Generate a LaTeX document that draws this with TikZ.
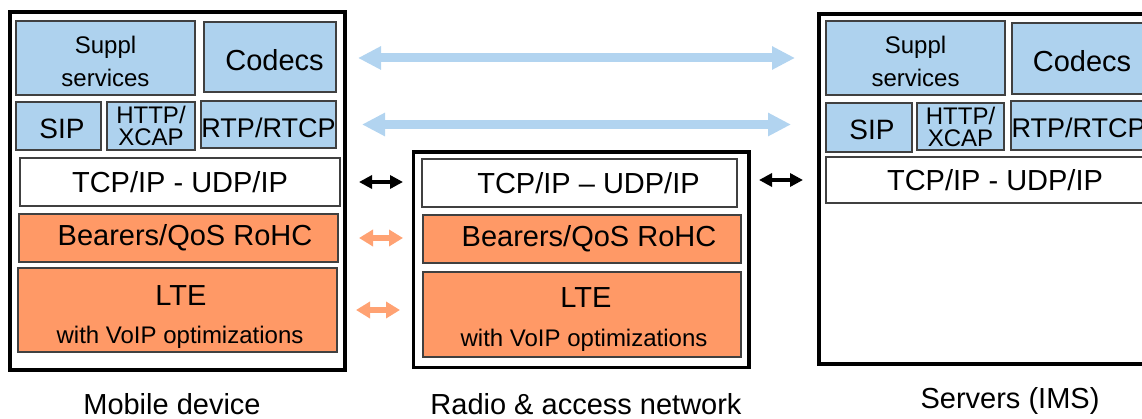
\documentclass[tikz,border=0pt]{standalone}
\usepackage{fontspec}
\setmainfont{Liberation Sans}
\usepackage{tikz}
\usetikzlibrary{arrows.meta}
\usetikzlibrary{positioning,calc}
\definecolor{layerblue}{RGB}{174,210,238}
\definecolor{layerorange}{RGB}{255,153,102}
\definecolor{arrowblue}{RGB}{178,212,240}
\definecolor{arroworange}{RGB}{255,162,115}
\definecolor{edgegray}{RGB}{64,64,64}

\begin{document}
\begin{tikzpicture}[x=1pt,y=1pt,yscale=-1,xscale=1]
 %set diagram size to 1142 x 419
 \clip (0,0) rectangle (1142,419);
 \tikzstyle{stackbox} = [draw=black,line width=3.5pt,inner sep=0pt,outer sep=0pt]
 \tikzstyle{layerbox} = [draw=edgegray,line width=1.2pt,inner sep=0pt,outer sep=0pt,font=\fontsize{29}{33}\selectfont]
 \tikzstyle{bluebox} = [layerbox,fill=layerblue]
 \tikzstyle{orangebox} = [layerbox,fill=layerorange]
 \tikzstyle{whitebox} = [layerbox,fill=white]
 \tikzstyle{bluearrow} = [draw=arrowblue,line width=9pt,arrows={Triangle[width=22pt,length=23pt]-Triangle[width=22pt,length=23pt]}]
 \tikzstyle{blackarrow} = [draw=black,line width=4.5pt,arrows={Triangle[width=13pt,length=13pt]-Triangle[width=13pt,length=13pt]}]
 \tikzstyle{orangearrow} = [draw=arroworange,line width=5.5pt,arrows={Triangle[width=16pt,length=14pt]-Triangle[width=16pt,length=14pt]}]
 \tikzstyle{caption} = [font=\fontsize{29}{33}\selectfont,inner sep=0pt]

 %Draw the outer boxes
 \node[stackbox,minimum width=335pt,minimum height=358pt] (mobile) at (177.5,191) {};
 \node[stackbox,minimum width=335.5pt,minimum height=215.5pt] (radio) at (581.25,259.75) {};
 \node[stackbox,minimum width=351pt,minimum height=350pt] (servers) at (994.5,189) {};

 %Draw the mobile device stack
 \node[bluebox,minimum width=179pt,minimum height=74pt,align=center,font=\fontsize{24}{33}\selectfont] (msuppl) at (105.5,58) {\rule{0pt}{24pt}Suppl\\services};
 \node[bluebox,minimum width=132pt,minimum height=70pt,text height=28pt,text depth=0pt] (mcodecs) at (270,57) {\hspace{9pt}Codecs};
 \node[bluebox,minimum width=85pt,minimum height=48pt,font=\fontsize{28}{33}\selectfont,text height=26pt,text depth=0pt] (msip) at (58.5,126) {\hspace{7pt}SIP};
 \node[bluebox,minimum width=88pt,minimum height=48pt,align=center,font=\fontsize{24}{22}\selectfont] (mhttp) at (151,126) {HTTP/\\XCAP};
 \node[bluebox,minimum width=135pt,minimum height=47pt,font=\fontsize{27}{33}\selectfont,text height=27pt,text depth=0pt] (mrtp) at (268.5,124.5) {RTP/RTCP};
 \node[whitebox,minimum width=320pt,minimum height=48pt] (mtcp) at (180,182) {TCP/IP - UDP/IP};
 \node[orangebox,minimum width=319pt,minimum height=48pt] (mbear) at (178.5,238) {\hspace{13pt}Bearers/QoS RoHC};
 \node[orangebox,minimum width=319pt,minimum height=84pt] (mlte) at (177.5,310) {};
 \node[caption] (mltetitle) at (181,296) {LTE};
 \node[caption,font=\fontsize{24}{33}\selectfont] (mltesub) at (180,337) {with VoIP optimizations};

 %Draw the radio and access network stack
 \node[whitebox,minimum width=315pt,minimum height=48pt] (rtcp) at (579.5,183) {\hspace{18pt}TCP/IP -- UDP/IP};
 \node[orangebox,minimum width=318pt,minimum height=48pt] (rbear) at (582,239) {\hspace{14pt}Bearers/QoS RoHC};
 \node[orangebox,minimum width=318pt,minimum height=85pt] (rlte) at (582,314.5) {};
 \node[caption] (rltetitle) at (586,298) {LTE};
 \node[caption,font=\fontsize{24}{33}\selectfont] (rltesub) at (584,340) {with VoIP optimizations};

 %Draw the servers stack
 \node[bluebox,minimum width=179pt,minimum height=74pt,align=center,font=\fontsize{24}{33}\selectfont] (ssuppl) at (915.5,58) {\rule{0pt}{24pt}Suppl\\services};
 \node[bluebox,minimum width=134pt,minimum height=71pt,text height=27pt,text depth=0pt] (scodecs) at (1079,58.5) {\hspace{6pt}Codecs};
 \node[bluebox,minimum width=86pt,minimum height=49pt,font=\fontsize{28}{33}\selectfont,text height=24pt,text depth=0pt] (ssip) at (869,127.5) {\hspace{6pt}SIP};
 \node[bluebox,minimum width=87pt,minimum height=47pt,align=center,font=\fontsize{24}{22}\selectfont] (shttp) at (960.5,126.5) {HTTP/\\XCAP};
 \node[bluebox,minimum width=135pt,minimum height=49pt,font=\fontsize{27}{33}\selectfont,text height=24pt,text depth=0pt] (srtp) at (1078.5,125.5) {RTP/RTCP};
 \node[whitebox,minimum width=338pt,minimum height=46pt] (stcp) at (995,180) {TCP/IP - UDP/IP};

 %Draw arrows between the stacks
 \draw[bluearrow,shorten <=13pt,shorten >=24pt] (mobile.east |- msuppl.center) -- (servers.west |- msuppl.center);
 \draw[bluearrow,shorten <=17pt,shorten >=28pt] (mobile.east |- mrtp.center) -- (servers.west |- mrtp.center);
 \draw[blackarrow,shorten <=14pt,shorten >=10.5pt] (mobile.east |- mtcp.center) -- (radio.west |- mtcp.center);
 \draw[blackarrow,shorten <=10pt,shorten >=16pt] (radio.east |- stcp.center) -- (servers.west |- stcp.center);
 \draw[orangearrow,shorten <=14pt,shorten >=10.5pt] (mobile.east |- mbear.center) -- (radio.west |- mbear.center);
 \draw[orangearrow,shorten <=11pt,shorten >=13.5pt] (mobile.east |- mlte.center) -- (radio.west |- mlte.center);

 %Labelling
 \node[caption] (mlabel) at (172,404) {Mobile device};
 \node[caption] (rlabel) at (586,404) {Radio \& access network};
 \node[caption] (slabel) at (1010,401) {Servers (IMS)};
\end{tikzpicture}
\end{document}
